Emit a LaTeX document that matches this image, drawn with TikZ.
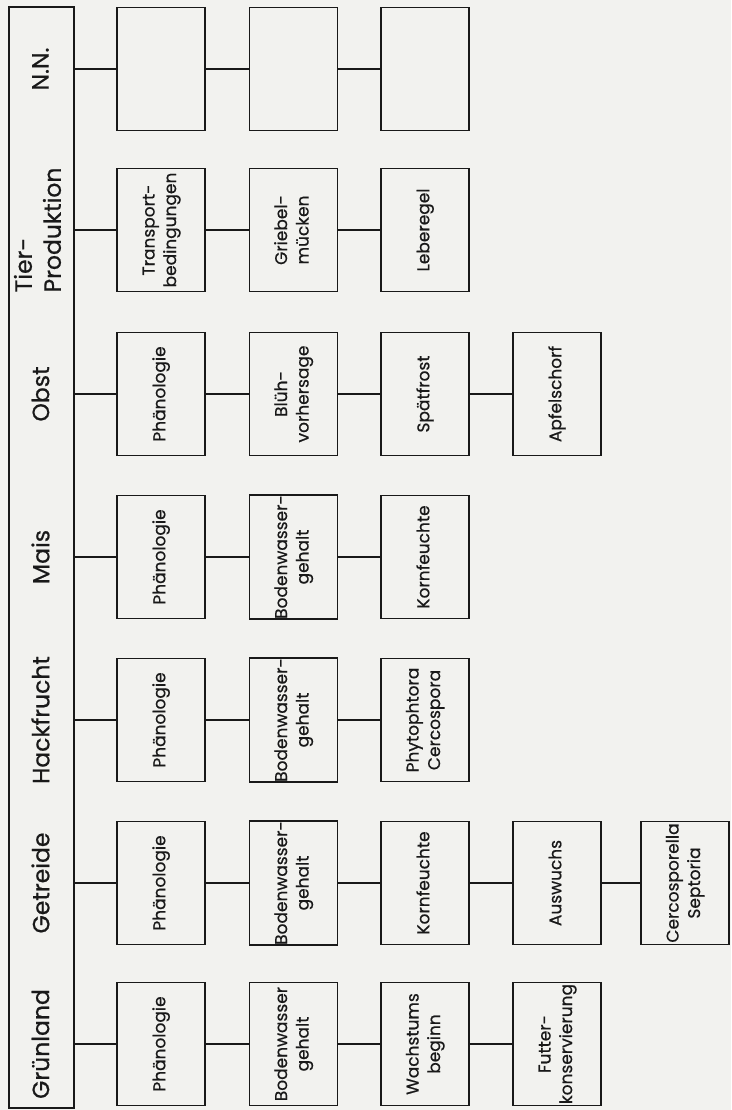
\documentclass[tikz,border=0pt]{standalone}
\usepackage{fontspec}
\setmainfont{Poppins}[FakeBold=0.6]
\usepackage{graphicx}
\definecolor{ink}{RGB}{25,25,25}
\definecolor{paper}{RGB}{242,242,239}
\newcommand\boxfont{\fontsize{17}{21.5}\selectfont}
\newcommand\catfont{\fontsize{23.5}{29}\selectfont}
\newcommand\bx[1]{\rotatebox{90}{\begin{tabular}{@{}c@{}}#1\end{tabular}}}
\begin{document}
\begin{tikzpicture}[x=1pt,y=-1pt,
  box/.style={draw=ink, line width=1.8pt, minimum width=88pt, minimum height=123pt, inner sep=0pt, font=\boxfont, text=ink},
  cat/.style={font=\catfont, text=ink, inner sep=0pt},
  link/.style={draw=ink, line width=1.8pt}]
\fill[paper] (0,0) rectangle (731,1110);
\useasboundingbox (0,0) rectangle (731,1110);
\node[draw=ink, line width=1.8pt, minimum width=65pt, minimum height=1101pt, inner sep=0pt, anchor=north west] (frame) at (8,6) {};
% category labels
\node[cat] (cN) at (40.5,69)  {\rotatebox{90}{N.N.}};
\node[cat] (cT) at (40.5,230) {\rotatebox{90}{\begin{tabular}{@{}l@{}}Tier-\\Produktion\end{tabular}}};
\node[cat] (cO) at (40.5,394) {\rotatebox{90}{Obst}};
\node[cat] (cM) at (40.5,557) {\rotatebox{90}{Mais}};
\node[cat] (cH) at (40.5,720) {\rotatebox{90}{Hackfrucht}};
\node[cat] (cG) at (40.5,883) {\rotatebox{90}{Getreide}};
\node[cat] (cL) at (40.5,1044) {\rotatebox{90}{Grünland}};
% N.N.
\node[box] (n1) at (161,69) {};
\node[box] (n2) at (293.5,69) {};
\node[box] (n3) at (425,69) {};
% Tier-Produktion
\node[box] (t1) at (161,230) {\bx{Transport-\\bedingungen}};
\node[box] (t2) at (293.5,230) {\bx{Griebel-\\mücken}};
\node[box] (t3) at (425,230) {\bx{Leberegel}};
% Obst
\node[box] (o1) at (161,394) {\bx{Phänologie}};
\node[box] (o2) at (293.5,394) {\bx{Blüh-\\vorhersage}};
\node[box] (o3) at (425,394) {\bx{Spätfrost}};
\node[box] (o4) at (557,394) {\bx{Apfelschorf}};
% Mais
\node[box] (m1) at (161,557) {\bx{Phänologie}};
\node[box] (m2) at (293.5,557) {\bx{Bodenwasser-\\gehalt}};
\node[box] (m3) at (425,557) {\bx{Kornfeuchte}};
% Hackfrucht
\node[box] (h1) at (161,720) {\bx{Phänologie}};
\node[box] (h2) at (293.5,720) {\bx{Bodenwasser-\\gehalt}};
\node[box] (h3) at (425,720) {\bx{Phytophtora\\Cercospora}};
% Getreide
\node[box] (g1) at (161,883) {\bx{Phänologie}};
\node[box] (g2) at (293.5,883) {\bx{Bodenwasser-\\gehalt}};
\node[box] (g3) at (425,883) {\bx{Kornfeuchte}};
\node[box] (g4) at (557,883) {\bx{Auswuchs}};
\node[box] (g5) at (685,883) {\bx{Cercosporella\\Septoria}};
% Grünland
\node[box] (l1) at (161,1044) {\bx{Phänologie}};
\node[box] (l2) at (293.5,1044) {\bx{Bodenwasser\\gehalt}};
\node[box] (l3) at (425,1044) {\bx{Wachstums\\beginn}};
\node[box] (l4) at (557,1044) {\bx{Futter-\\konservierung}};
% connectors
\foreach \b in {n1,t1,o1,m1,h1,g1,l1}
  \draw[link] (\b.west -| frame.east) -- (\b.west);
\foreach \a/\b in {n1/n2,n2/n3,t1/t2,t2/t3,o1/o2,o2/o3,o3/o4,m1/m2,m2/m3,h1/h2,h2/h3,g1/g2,g2/g3,g3/g4,g4/g5,l1/l2,l2/l3,l3/l4}
  \draw[link] (\a) -- (\b);
\end{tikzpicture}
\end{document}
